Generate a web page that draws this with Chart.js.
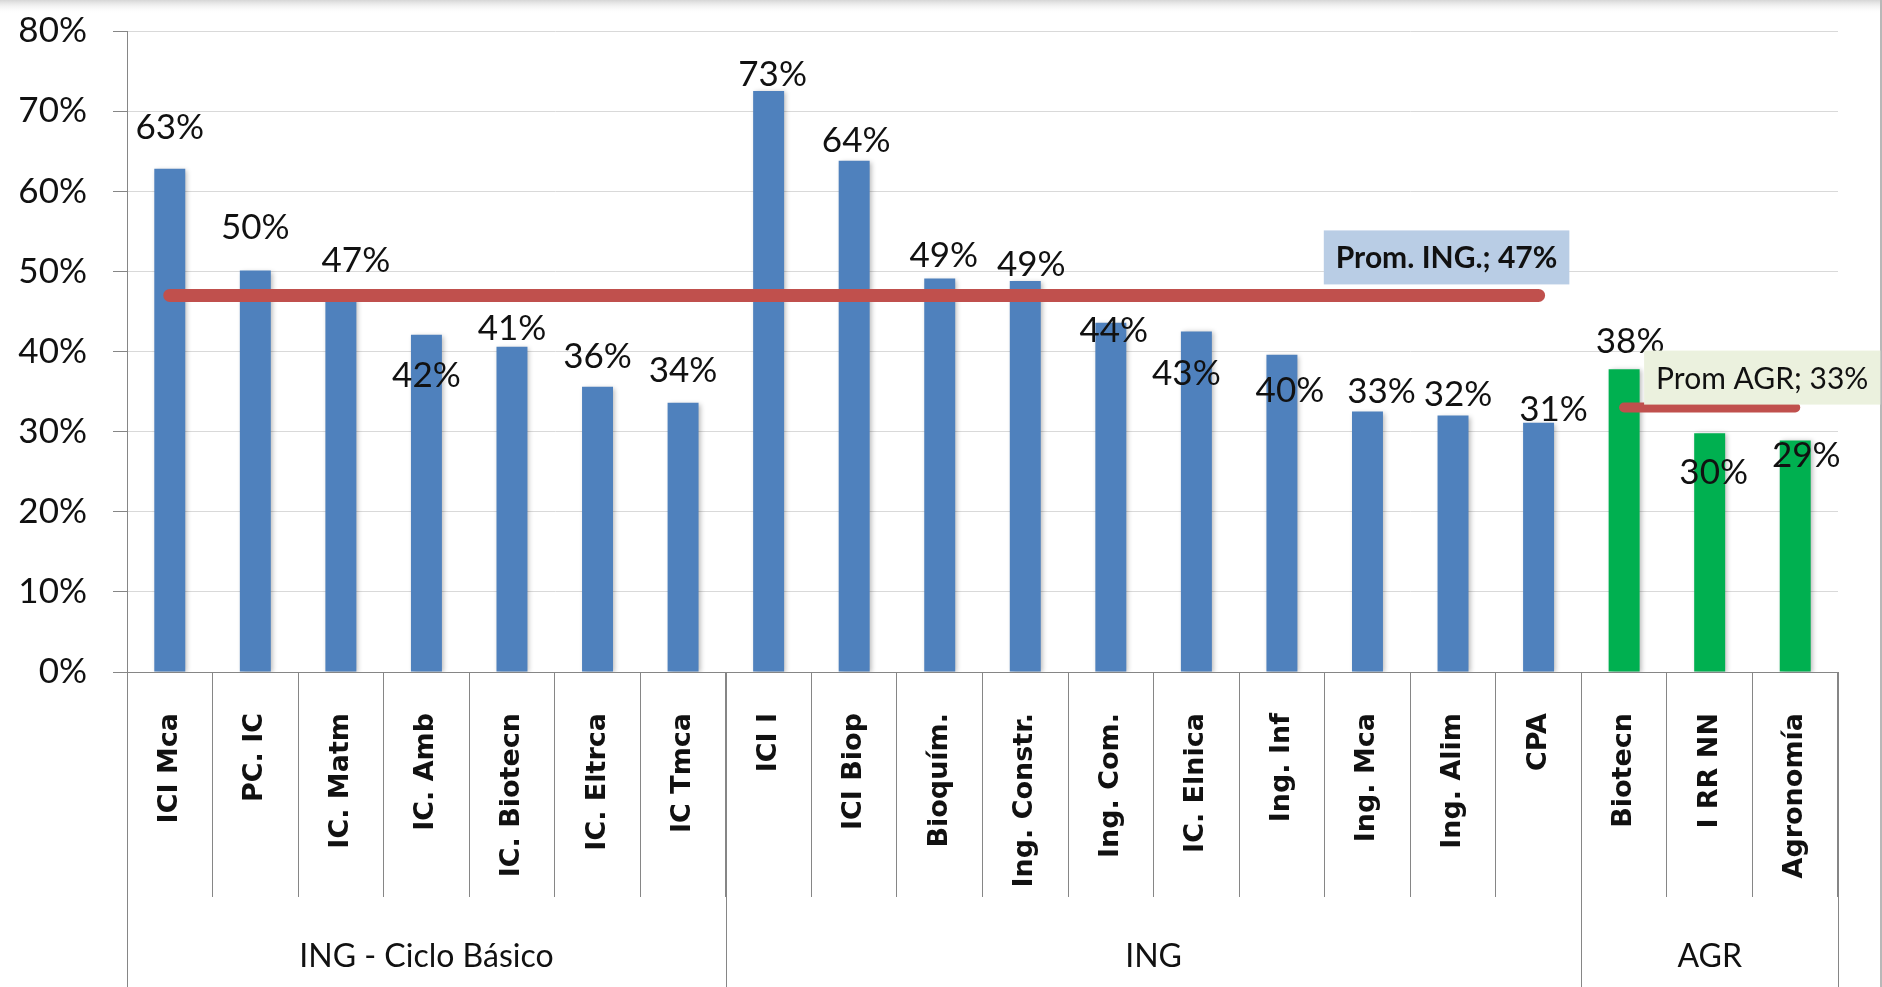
<!DOCTYPE html>
<html>
<head>
<meta charset="utf-8">
<script src="https://cdn.jsdelivr.net/npm/chart.js@4.4.0/dist/chart.umd.min.js"></script>
<style>
  html, body { margin: 0; padding: 0; background: #fff; }
  canvas { display: block; }
</style>
</head>
<body>
<canvas id="chart" width="1882" height="987"></canvas>
<script>
const careers = ['ICI Mca', 'PC. IC', 'IC. Matm', 'IC. Amb', 'IC. Biotecn', 'IC. Eltrca', 'IC Tmca',
    'ICI I', 'ICI Biop', 'Bioquím.', 'Ing. Constr.', 'Ing. Com.', 'IC. Elnica', 'Ing. Inf', 'Ing. Mca', 'Ing. Alim', 'CPA',
    'Biotecn', 'I RR NN', 'Agronomía'];
const groupNames = ['ING - Ciclo Básico', 'ING', 'AGR'];
const groupSizes = [7, 10, 3];
const rates = [62.8, 50.1, 47.0, 42.1, 40.6, 35.6, 33.6,
    72.5, 63.8, 49.1, 48.8, 43.6, 42.5, 39.6, 32.5, 32.0, 31.1,
    37.8, 29.8, 28.9];
const promING = 47;
const promAGR = 33;
const yTicks = [0, 10, 20, 30, 40, 50, 60, 70, 80];

// hand placed data labels (px offsets from bar top, like the excel sheet)
const labelDx = [0, 0, 15, 0, 0, 0, 0, 4, 2, 4, 6, 3, -10, 8, 14, 5, 15, 6, 4, 11];
const labelDy = [-30, -32, -23, 52, -7, -19, -21, -5, -9, -12, -5, 19, 54, 47, -9, -10, -2, -16, 51, 27];

const nIng = groupSizes[0] + groupSizes[1];
const ingLine = careers.map((c, i) => i < nIng ? promING : null);
const agrLine = careers.map((c, i) => i >= nIng ? promAGR : null);
const barColors = careers.map((c, i) => i < nIng ? '#4F81BD' : '#00B050');

const AXIS = '#868686';

const pageBg = {
    id: 'pageBg',
    beforeDraw(chart) {
        const ctx = chart.ctx;
        ctx.save();
        ctx.fillStyle = '#fff';
        ctx.fillRect(0, 0, chart.width, chart.height);
        const g = ctx.createLinearGradient(0, 0, 0, 14);
        g.addColorStop(0, '#d6d6d6');
        g.addColorStop(1, 'rgba(255,255,255,0)');
        ctx.fillStyle = g;
        ctx.fillRect(0, 0, chart.width, 14);
        ctx.fillStyle = '#b8b8b8';
        ctx.fillRect(chart.width - 2, 0, 2, chart.height);
        ctx.restore();
    }
};

const barShadow = {
    id: 'barShadow',
    beforeDatasetDraw(chart, args) {
        if (args.meta.type !== 'bar') return;
        const ctx = chart.ctx;
        ctx.save();
        ctx.shadowColor = 'rgba(0,0,0,0.28)';
        ctx.shadowBlur = 5;
        ctx.shadowOffsetX = 2;
        ctx.shadowOffsetY = 1;
    },
    afterDatasetDraw(chart, args) {
        if (args.meta.type !== 'bar') return;
        chart.ctx.restore();
    }
};

const valueLabels = {
    id: 'valueLabels',
    afterDatasetsDraw(chart) {
        const ctx = chart.ctx;
        const meta = chart.getDatasetMeta(2);
        ctx.save();
        ctx.font = '35px Lato';
        ctx.fillStyle = '#111';
        ctx.textAlign = 'center';
        ctx.textBaseline = 'alphabetic';
        meta.data.forEach((bar, i) => {
            ctx.fillText(Math.round(rates[i]) + '%', bar.x + labelDx[i], bar.y + labelDy[i]);
        });

        // average line boxes
        const boxes = [
            { ds: 0, text: 'Prom. ING.; ' + promING + '%', bg: '#B9CDE5', font: 'bold 30px Lato', dx: -92, dy: -38 },
            { ds: 1, text: 'Prom AGR; ' + promAGR + '%', bg: '#EBF1DE', font: '30px Lato', dx: -33, dy: -30 }
        ];
        boxes.forEach(b => {
            const pts = chart.getDatasetMeta(b.ds).data.filter((p, i) => chart.data.datasets[b.ds].data[i] !== null);
            const last = pts[pts.length - 1];
            ctx.font = b.font;
            const w = ctx.measureText(b.text).width + 24;
            const h = 54;
            const cx = last.x + b.dx, cy = last.y + b.dy;
            ctx.fillStyle = b.bg;
            ctx.fillRect(cx - w / 2, cy - h / 2, w, h);
            ctx.fillStyle = '#111';
            ctx.fillText(b.text, cx, cy + 11);
        });
        ctx.restore();
    }
};

const groupAxis = {
    id: 'groupAxis',
    afterDraw(chart) {
        const ctx = chart.ctx;
        const xs = chart.scales.x;
        const area = chart.chartArea;
        ctx.save();
        ctx.strokeStyle = AXIS;
        ctx.lineWidth = 1;
        ctx.fillStyle = '#111';
        ctx.font = '32px Lato';
        ctx.textAlign = 'center';
        ctx.textBaseline = 'middle';
        let start = 0;
        const edges = [start];
        groupSizes.forEach(n => { start += n; edges.push(start); });
        edges.forEach(e => {
            const x = Math.round(xs.getPixelForValue(e - 0.5)) + 0.5;
            ctx.beginPath();
            ctx.moveTo(x, area.bottom);
            ctx.lineTo(x, chart.height);
            ctx.stroke();
        });
        groupNames.forEach((name, g) => {
            const x0 = xs.getPixelForValue(edges[g] - 0.5);
            const x1 = xs.getPixelForValue(edges[g + 1] - 0.5);
            ctx.fillText(name, (x0 + x1) / 2, area.bottom + 285);
        });
        ctx.restore();
    }
};

const ctx = document.getElementById('chart').getContext('2d');

new Chart(ctx, {
    type: 'bar',
    data: {
        labels: careers,
        datasets: [
            {
                type: 'line',
                label: 'Prom. ING.',
                data: ingLine,
                borderColor: '#C0504D',
                borderWidth: 13,
                borderCapStyle: 'round',
                pointRadius: 0,
                tension: 0,
                order: 0
            },
            {
                type: 'line',
                label: 'Prom AGR',
                data: agrLine,
                borderColor: '#C0504D',
                borderWidth: 10,
                borderCapStyle: 'round',
                pointRadius: 0,
                tension: 0,
                order: 0
            },
            {
                label: 'Aprobación',
                data: rates,
                backgroundColor: barColors,
                borderWidth: 0,
                categoryPercentage: 1,
                barPercentage: 0.362,
                order: 1
            }
        ]
    },
    options: {
        responsive: false,
        animation: false,
        devicePixelRatio: 1,
        layout: {
            padding: { top: 31, right: 44, left: 0, bottom: 0 }
        },
        plugins: {
            legend: { display: false },
            tooltip: { enabled: false }
        },
        scales: {
            x: {
                offset: true,
                grid: {
                    display: true,
                    offset: true,
                    drawOnChartArea: false,
                    drawTicks: true,
                    tickLength: 225,
                    tickColor: AXIS,
                    color: AXIS
                },
                border: { color: AXIS, width: 1 },
                ticks: {
                    autoSkip: false,
                    minRotation: 90,
                    maxRotation: 90,
                    padding: -184,
                    color: '#111',
                    font: { family: 'DejaVu Sans', weight: 'bold', size: 27 }
                },
                afterFit(scale) { scale.height = 315; }
            },
            y: {
                min: 0,
                max: 80,
                afterBuildTicks(scale) { scale.ticks = yTicks.map(v => ({ value: v })); },
                grid: {
                    color: '#d9d9d9',
                    tickColor: AXIS,
                    tickLength: 14
                },
                border: { color: AXIS, width: 1 },
                ticks: {
                    padding: 26,
                    color: '#111',
                    font: { family: 'Lato', size: 35 },
                    callback: v => v + '%'
                },
                afterFit(scale) {
                    scale.width = 127;
                    scale.paddingTop = 0;
                    scale.paddingBottom = 0;
                }
            }
        }
    },
    plugins: [pageBg, barShadow, valueLabels, groupAxis]
});
</script>
</body>
</html>
